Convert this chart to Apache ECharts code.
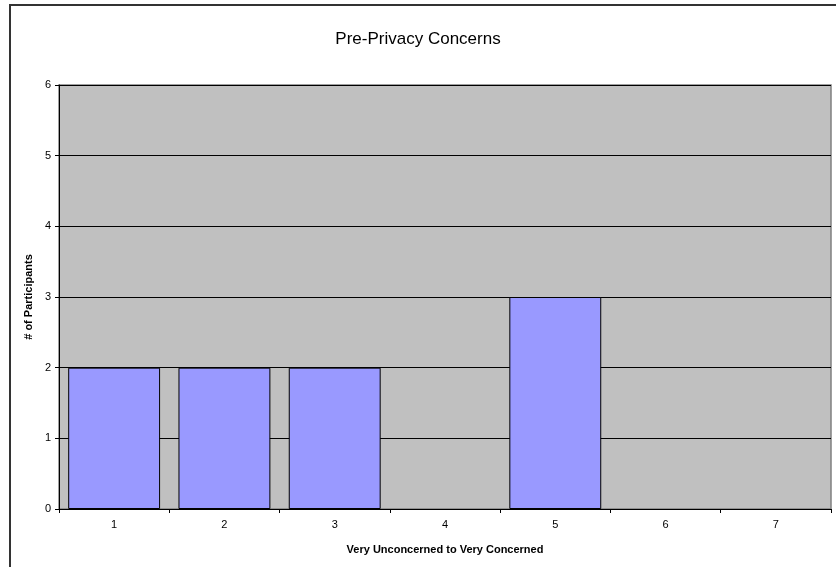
<!DOCTYPE html>
<html>
<head>
<meta charset="utf-8">
<script src="https://cdn.jsdelivr.net/npm/echarts@6/dist/echarts.min.js"></script>
<style>
  html, body { margin: 0; padding: 0; background: #fff; }
  #chart { width: 836px; height: 567px; }
</style>
</head>
<body>
<div id="chart"></div>
<script>
// Responses on a 1-7 scale, from very unconcerned to very concerned
const categories = ['1', '2', '3', '4', '5', '6', '7'];
const participants = [2, 2, 2, 0, 3, 0, 0];
const yTicks = [0, 1, 2, 3, 4, 5, 6];

const chart = echarts.init(document.getElementById('chart'), null, { renderer: 'canvas' });

const font = 'Arial, "Liberation Sans", sans-serif';

// Empty categories get no outline so no stray line sits on the axis
const barData = participants.map(v => ({
  value: v,
  itemStyle: v === 0 ? { borderWidth: 0, opacity: 0 } : undefined
}));

chart.setOption({
  animation: false,
  backgroundColor: '#ffffff',
  title: {
    text: 'Pre-Privacy Concerns',
    left: 'center',
    top: 26,
    textStyle: { fontFamily: font, fontSize: 17, fontWeight: 'normal', color: '#000' }
  },
  graphic: [{
    type: 'rect',
    shape: { x: 10, y: 5, width: 900, height: 700 },
    style: { fill: 'none', stroke: '#333', lineWidth: 2 },
    silent: true,
    z: 100
  }],
  grid: {
    left: 59,
    right: 5,
    top: 85,
    bottom: 58,
    show: true,
    backgroundColor: '#C0C0C0',
    borderColor: '#808080',
    borderWidth: 1.5
  },
  xAxis: {
    type: 'category',
    data: categories,
    name: 'Very Unconcerned to Very Concerned',
    nameLocation: 'middle',
    nameGap: 35,
    nameTextStyle: { fontFamily: font, fontSize: 11, fontWeight: 'bold', color: '#000' },
    axisLine: { lineStyle: { color: '#000', width: 1 } },
    axisTick: { show: true, alignWithLabel: false, length: 4, lineStyle: { color: '#000' } },
    axisLabel: { fontFamily: font, fontSize: 11, color: '#000', margin: 10 },
    splitLine: { show: false }
  },
  yAxis: {
    type: 'value',
    min: yTicks[0],
    max: yTicks[yTicks.length - 1],
    interval: 1,
    name: '# of Participants',
    nameLocation: 'middle',
    nameGap: 24,
    nameTextStyle: { fontFamily: font, fontSize: 11, fontWeight: 'bold', color: '#000' },
    axisLine: { show: true, lineStyle: { color: '#000', width: 1 } },
    axisTick: { show: true, length: 4, lineStyle: { color: '#000' } },
    axisLabel: { fontFamily: font, fontSize: 11, color: '#000', margin: 8 },
    splitLine: { show: true, lineStyle: { color: '#000', width: 1 } }
  },
  series: [{
    type: 'bar',
    data: barData,
    barCategoryGap: '16.67%',
    itemStyle: { color: '#9999FF', borderColor: '#000', borderWidth: 1 }
  }]
});
</script>
</body>
</html>
